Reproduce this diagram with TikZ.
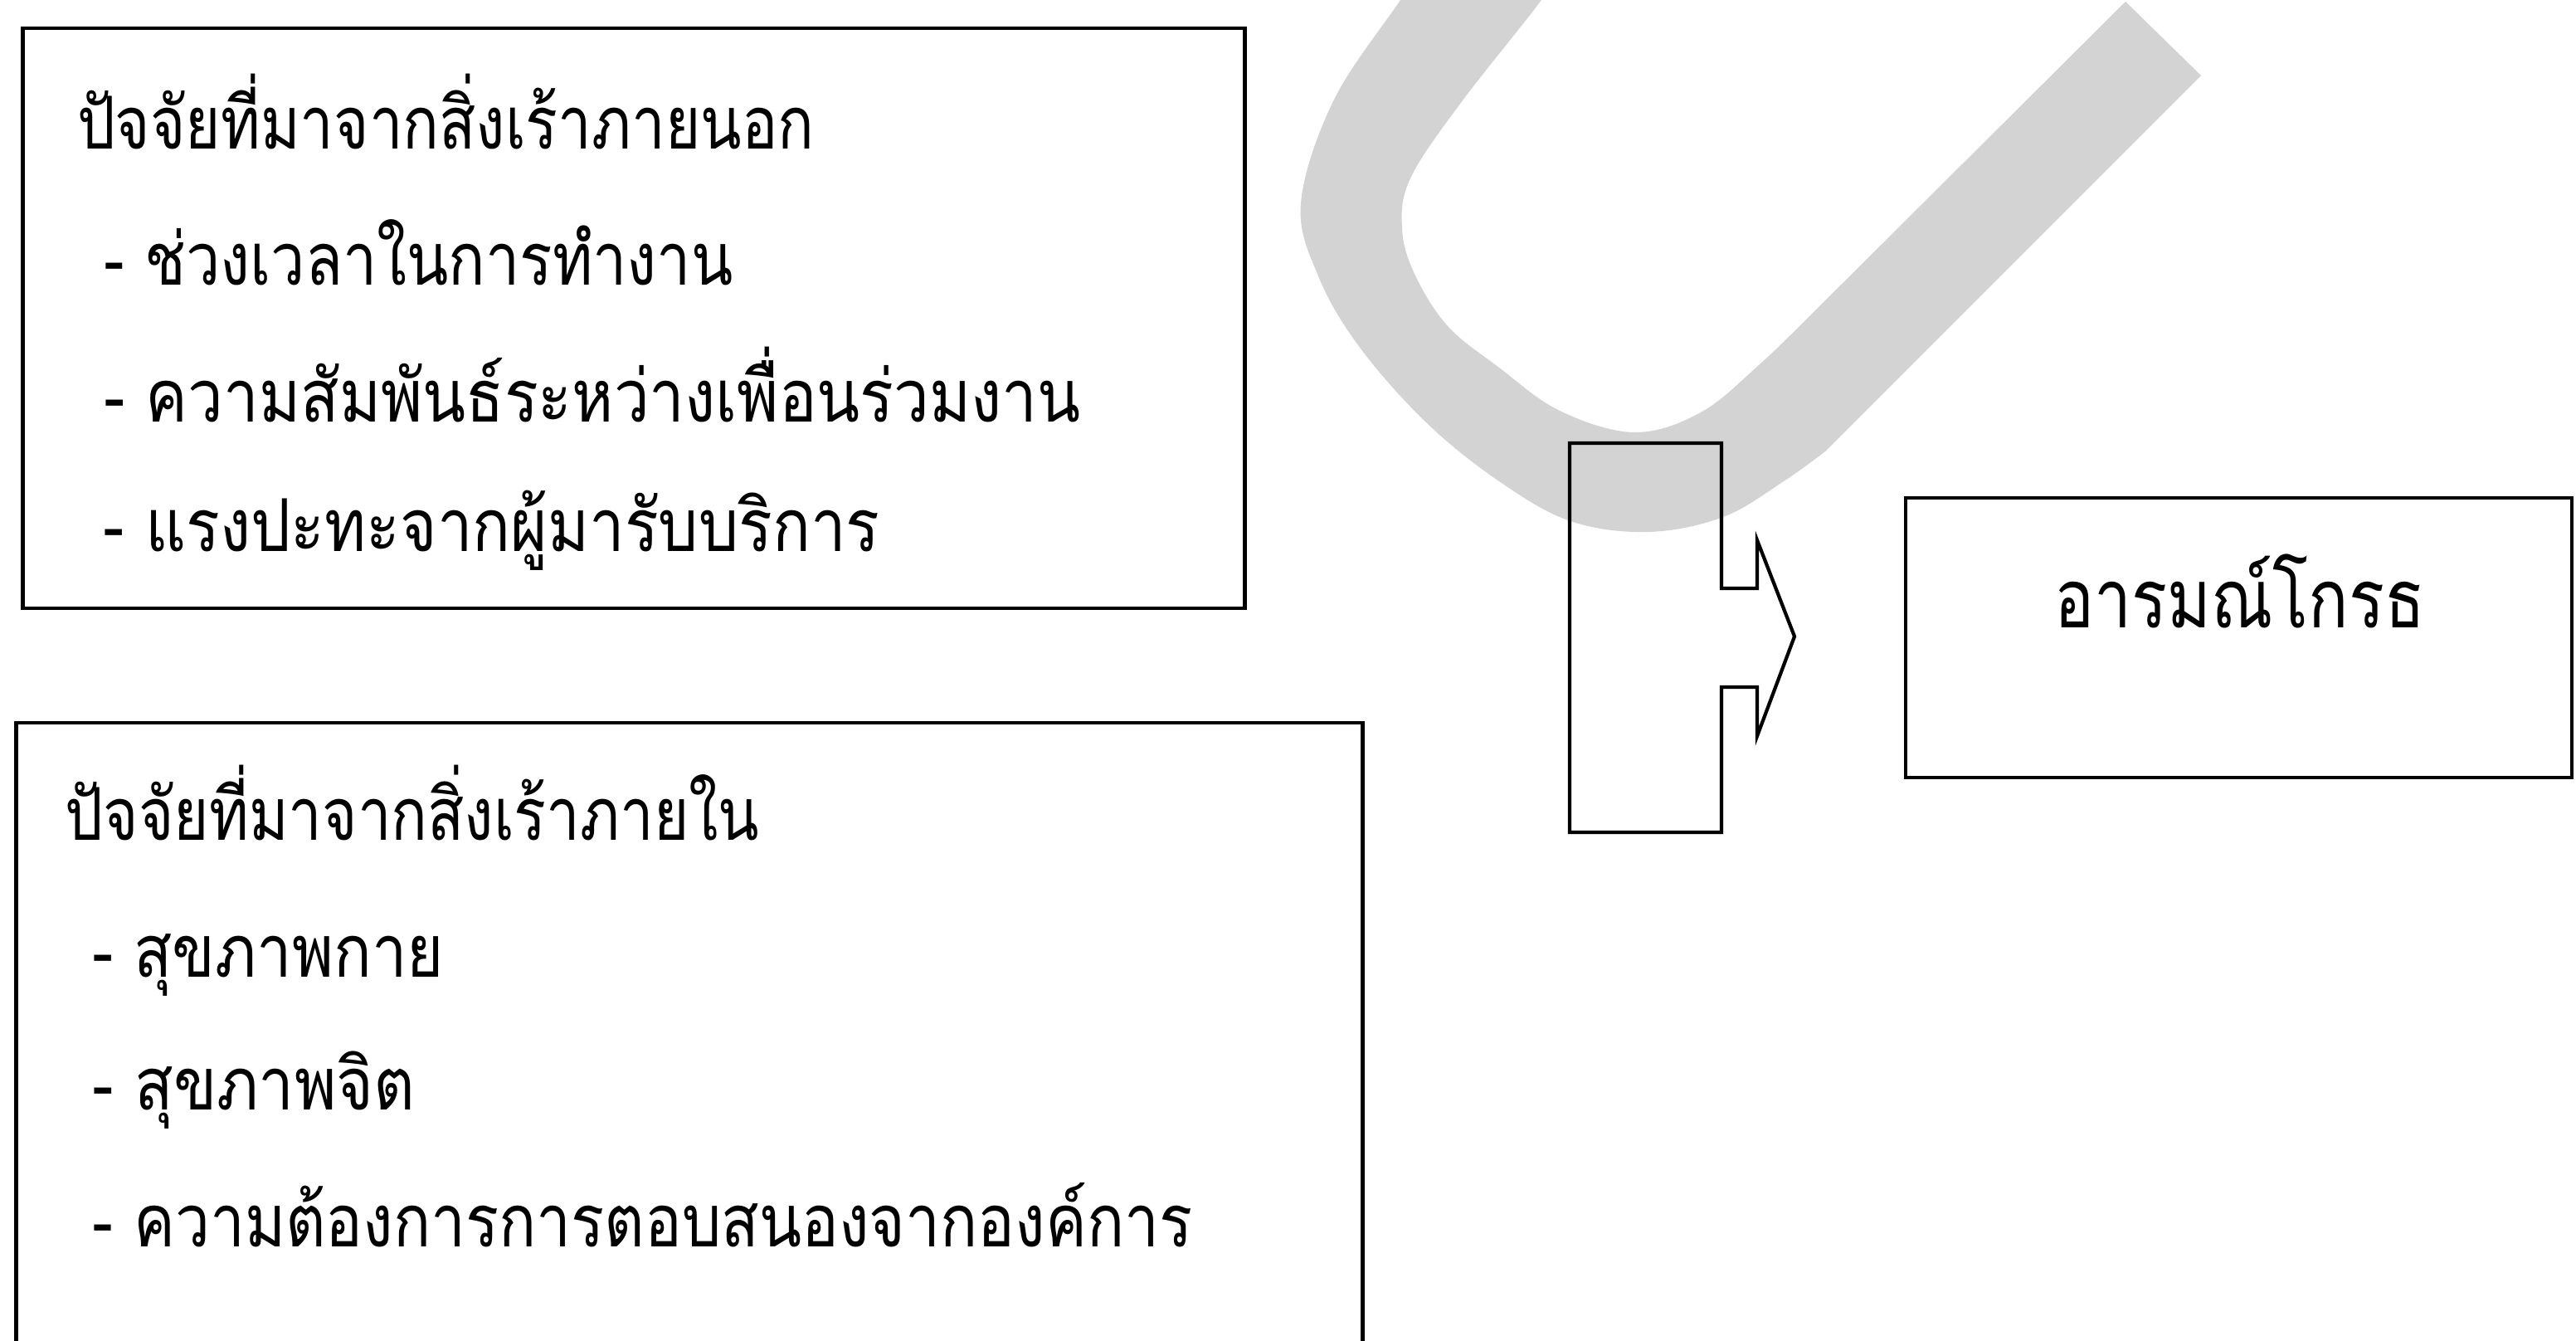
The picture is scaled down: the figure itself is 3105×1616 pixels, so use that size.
\documentclass[tikz,border=0pt]{standalone}
\usepackage{fontspec}
\usepackage{graphicx}
\newfontfamily\thaifont[Script=Thai]{Loma}
\definecolor{markgray}{HTML}{D3D3D3}
\begin{document}
\begin{tikzpicture}[x=0.01cm,y=-0.01cm,
  frame/.style={draw=black, line width=1.2pt, inner sep=0pt, rectangle},
  txt/.style={anchor=base west, inner sep=0pt, outer sep=0pt, font=\thaifont\fontsize{25}{30}\selectfont},
  bigtxt/.style={txt, font=\thaifont\fontsize{28}{33}\selectfont}]
\useasboundingbox[fill=white] (0,0) rectangle (3105,1616);
% light gray mark behind everything
\begin{scope}
\clip (0,0) rectangle (3105,1616);
\fill[markgray] plot[smooth, tension=0.6] coordinates {(1712,-40) (1688,0) (1608,120) (1568,245) (1590,335) (1640,420) (1720,510) (1807,580) (1893,628) (1987,641) (2077,623) (2150,580) (2200,544)}
  -- (2653,91) -- (2562,2) -- (2174,388)
  -- plot[smooth, tension=0.6] coordinates {(2174,388) (2120,440) (2050,497) (1970,521) (1880,495) (1807,443) (1745,393) (1705,330) (1690,275) (1700,215) (1760,125) (1858,0) (1882,-40)}
  -- cycle;
\end{scope}
% boxes
\node[frame, minimum width=14.72cm, minimum height=6.99cm] (box1) at (764,383.5) {};
\node[frame, minimum width=16.22cm, minimum height=7.69cm] (box2) at (831,1255.5) {};
\node[frame, minimum width=8.03cm, minimum height=3.37cm] (res) at (2698.5,768.5) {};
% block arrow
\draw[line width=1.2pt, line join=miter] (1892,534) -- (2075,534) -- (2075,709) -- (2118,709) -- (2118,651) -- (2163,767) -- (2118,887) -- (2118,828) -- (2075,828) -- (2075,1003) -- (1892,1003) -- cycle;
% texts box 1
\node[txt] (h1) at (93,180) {\resizebox{8.88cm}{\height}{ปัจจัยที่มาจากสิ่งเร้าภายนอก}};
\node[txt] (l11) at (125,344) {\resizebox{7.58cm}{\height}{- ช่วงเวลาในการทำงาน}};
\node[txt] (l12) at (125,509) {\resizebox{11.77cm}{\height}{- ความสัมพันธ์ระหว่างเพื่อนร่วมงาน}};
\node[txt] (l13) at (125,665) {\resizebox{9.35cm}{\height}{- แรงปะทะจากผู้มารับบริการ}};
% texts box 2
\node[txt] (h2) at (79,1013) {\resizebox{8.36cm}{\height}{ปัจจัยที่มาจากสิ่งเร้าภายใน}};
\node[txt] (l21) at (111,1177) {\resizebox{4.24cm}{\height}{- สุขภาพกาย}};
\node[txt] (l22) at (111,1337) {\resizebox{3.89cm}{\height}{- สุขภาพจิต}};
\node[txt] (l23) at (111,1502) {\resizebox{13.26cm}{\height}{- ความต้องการการตอบสนองจากองค์การ}};
% result text
\node[bigtxt] (rt) at (2476,757) {\resizebox{4.47cm}{\height}{อารมณ์โกรธ}};
\end{tikzpicture}
\end{document}
